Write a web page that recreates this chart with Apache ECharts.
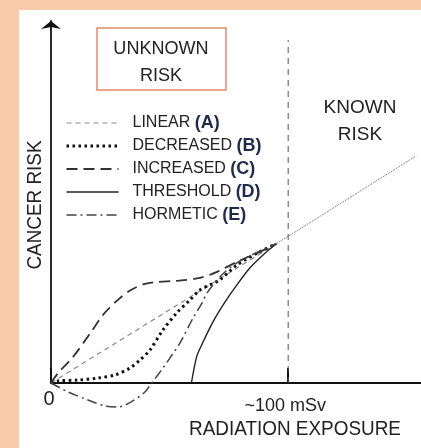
<!DOCTYPE html>
<html>
<head>
<meta charset="utf-8">
<script src="https://cdn.jsdelivr.net/npm/echarts@6/dist/echarts.min.js"></script>
<style>
  html, body { margin: 0; padding: 0; background: #f9cbaa; }
  #chart { width: 421px; height: 448px; }
</style>
</head>
<body>
<div id="chart"></div>
<script>
  // dose (mSv) vs risk, risk scaled so that the linear model is y = x
  var linearA = [[0, 0], [95, 95]]
  var decreasedB = [[0, 0], [3, 1.4], [11.4, 2], [19.8, 3.4], [27, 5.5], [33.3, 10.2], [37.5, 15.7], [41.7, 22.5],
    [47.2, 36.2], [53, 47.8], [58.6, 56.7], [62.8, 63.5], [67, 66.9], [71.2, 70.4], [78.4, 80.5], [88, 89.5], [95, 95]]
  var increasedC = [[0, 0], [3, 6.8], [9.3, 17.8], [16.9, 34.8], [21.9, 46.4], [28.2, 56.7], [33.7, 63.5], [39.6, 67.6],
    [45.1, 69], [52.7, 69.7], [62.8, 71.7], [70, 75.8], [78.4, 82.7], [88.1, 89.5], [95, 95]]
  var thresholdD = [[59.2, 0], [61.4, 17.8], [63.5, 25.9], [68.3, 41.7], [73.4, 55.3], [78.4, 66.9], [83.9, 78.6],
    [89.4, 87.4], [95, 95]]
  var hormeticE = [[0, 0], [7.2, -6.1], [15.6, -11.6], [22.8, -15.7], [28.2, -16.4], [33.7, -13], [39.6, -6.1], [42.5, 0],
    [47.2, 10.2], [51, 19.1], [54.4, 27.3], [59.9, 44.4], [63.7, 54.6], [65.8, 61.5], [72.1, 73.8], [78.4, 82], [88, 90], [95, 95]]
  var knownRisk = [[95, 95], [154, 155]]
  var limitLine = [[100, 0], [100, 234]]
  var xTicks = { 0: '0', 100: '~100 mSv' }

  var font = '"Liberation Sans", Arial, sans-serif'

  var chart = echarts.init(document.getElementById('chart'))
  chart.setOption({
    backgroundColor: '#f9cbaa',
    animation: false,
    grid: { left: 51, right: 0, top: 21, bottom: 65 },
    xAxis: {
      type: 'value',
      min: 0,
      max: 156,
      interval: 100,
      splitLine: { show: false },
      axisLine: { lineStyle: { color: '#111', width: 1.8 } },
      axisTick: { show: true, inside: true, length: 15, lineStyle: { color: '#111', width: 2 } },
      axisLabel: {
        showMaxLabel: false,
        margin: 6,
        formatter: function (v) {
          if (v === 0) return '{z|0}'
          if (v === 100) return '{h|' + xTicks[100] + '}'
          return ''
        },
        rich: {
          z: { fontFamily: font, fontSize: 20, color: '#222', padding: [0, 4, 0, 0] },
          h: { fontFamily: font, fontSize: 18, color: '#222', padding: [8, 6, 0, 0] }
        }
      }
    },
    yAxis: {
      type: 'value',
      min: 0,
      max: 247,
      splitLine: { show: false },
      axisTick: { show: false },
      axisLabel: { show: false },
      axisLine: {
        show: true,
        onZero: false,
        symbol: ['none', 'arrow'],
        symbolSize: [15, 8],
        lineStyle: { color: '#111', width: 1.8 }
      }
    },
    legend: {
      orient: 'vertical',
      left: 60,
      top: 108,
      itemWidth: 52,
      itemHeight: 14,
      itemGap: 3,
      itemStyle: { opacity: 0 },
      lineStyle: { width: 'inherit' },
      data: ['LINEAR (A)', 'DECREASED (B)', 'INCREASED (C)', 'THRESHOLD (D)', 'HORMETIC (E)'],
      formatter: function (name) {
        var i = name.indexOf('(')
        return '{t|' + name.slice(0, i) + '}{b|' + name.slice(i) + '}'
      },
      textStyle: {
        padding: [0, 0, 0, 9],
        lineHeight: 20,
        rich: {
          t: { fontFamily: font, fontSize: 16, color: '#222' },
          b: { fontFamily: font, fontWeight: 'bold', fontSize: 18, color: '#1f2b4a' }
        }
      }
    },
    graphic: [
      { type: 'rect', z: -10, shape: { x: 19, y: 10, width: 410, height: 440 }, style: { fill: '#fff' } },
      { type: 'rect', shape: { x: 97, y: 28, width: 129, height: 62 }, style: { fill: '#fff', stroke: '#e38b63', lineWidth: 1.5 } },
      { type: 'text', x: 161, y: 49, scaleX: 0.95, style: { text: 'UNKNOWN', font: '19px ' + font, fill: '#222', align: 'center', verticalAlign: 'middle' } },
      { type: 'text', x: 161, y: 76, scaleX: 0.95, style: { text: 'RISK', font: '19px ' + font, fill: '#222', align: 'center', verticalAlign: 'middle' } },
      { type: 'text', x: 360, y: 108, style: { text: 'KNOWN', font: '19px ' + font, fill: '#222', align: 'center', verticalAlign: 'middle' } },
      { type: 'text', x: 360, y: 135, style: { text: 'RISK', font: '19px ' + font, fill: '#222', align: 'center', verticalAlign: 'middle' } },
      { type: 'text', x: 295, y: 429, scaleX: 0.9, style: { text: 'RADIATION EXPOSURE', font: '21px ' + font, fill: '#222', align: 'center', verticalAlign: 'middle' } },
      { type: 'text', x: 35, y: 205, rotation: Math.PI / 2, scaleX: 0.9, style: { text: 'CANCER RISK', font: '21px ' + font, fill: '#222', align: 'center', verticalAlign: 'middle' } }
    ],
    series: [
      {
        name: 'LINEAR (A)', type: 'line', data: linearA, symbol: 'none',
        lineStyle: { color: '#8a8a8a', width: 1.2, type: [5, 4] }
      },
      {
        name: 'DECREASED (B)', type: 'line', data: decreasedB, symbol: 'none', smooth: 0.3,
        lineStyle: { color: '#111', width: 3, type: [2.5, 3.5] }
      },
      {
        name: 'INCREASED (C)', type: 'line', data: increasedC, symbol: 'none', smooth: 0.3,
        lineStyle: { color: '#333', width: 1.8, type: [11, 6] }
      },
      {
        name: 'THRESHOLD (D)', type: 'line', data: thresholdD, symbol: 'none', smooth: 0.3,
        lineStyle: { color: '#222', width: 1.4 }
      },
      {
        name: 'HORMETIC (E)', type: 'line', data: hormeticE, symbol: 'none', smooth: 0.3, clip: false,
        lineStyle: { color: '#444', width: 1.5, type: [10, 4, 2, 4] }
      },
      {
        name: 'known', type: 'line', data: knownRisk, symbol: 'none',
        lineStyle: { color: '#888', width: 1, type: [2, 1] }
      },
      {
        name: 'limit', type: 'line', data: limitLine, symbol: 'none',
        lineStyle: { color: '#555', width: 1, type: [6, 5] }
      }
    ]
  })
</script>
</body>
</html>
